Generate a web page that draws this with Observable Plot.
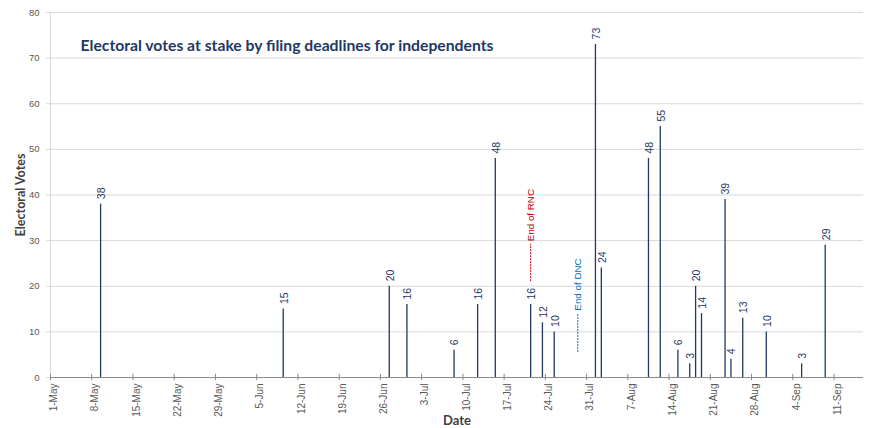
<!DOCTYPE html>
<html><head><meta charset="utf-8">
<script src="https://cdn.jsdelivr.net/npm/d3@7"></script>
<script src="https://cdn.jsdelivr.net/npm/@observablehq/plot@0.6"></script>
<style>body{margin:0;background:#fff}</style>
</head><body><div id="chart"></div>
<script>
// Filing deadlines (2016) and electoral votes at stake
const deadlineDates = ["2016-05-09","2016-06-09","2016-06-27","2016-06-30","2016-07-08","2016-07-12","2016-07-15",
  "2016-07-21","2016-07-23","2016-07-25","2016-08-01","2016-08-02","2016-08-10","2016-08-12","2016-08-15",
  "2016-08-17","2016-08-18","2016-08-19","2016-08-23","2016-08-24","2016-08-26","2016-08-30","2016-09-05","2016-09-09"];
const electoralVotes = [38,15,20,16,6,16,48,16,12,10,73,24,48,55,6,3,20,14,39,4,13,10,3,29];

const tickLabels = ["1-May","8-May","15-May","22-May","29-May","5-Jun","12-Jun","19-Jun","26-Jun","3-Jul",
  "10-Jul","17-Jul","24-Jul","31-Jul","7-Aug","14-Aug","21-Aug","28-Aug","4-Sep","11-Sep"];
const yTicks = [0,10,20,30,40,50,60,70,80];

const eventDates = ["2016-07-21","2016-07-29"];
const eventLabels = ["End of RNC","End of DNC"];
const eventLow = [21, 5.5];
const eventHigh = [29.2, 14];

const titleText = "Electoral votes at stake by filing deadlines for independents";
const xLabel = "Date";
const yLabel = "Electoral Votes";

const eventColor = {"End of RNC": "#c00000", "End of DNC": "#0070c0"};
const navy = "#1f3864";

const parseISO = d3.utcParse("%Y-%m-%d");
const parseTick = d3.utcParse("%d-%b-%Y");
const noon = s => new Date(+parseISO(s) + 12 * 3600e3);

const data = deadlineDates.map((d, i) => ({date: noon(d), votes: electoralVotes[i]}));
const ticks = tickLabels.map(t => ({date: parseTick(t + "-2016"), label: t}));
const events = eventDates.map((d, i) => ({date: noon(d), label: eventLabels[i], low: eventLow[i], high: eventHigh[i]}));

const chart = Plot.plot({
  width: 879,
  height: 428,
  marginLeft: 50,
  marginRight: 16,
  marginTop: 12,
  marginBottom: 51,
  style: {fontFamily: "Liberation Sans, Arial, sans-serif", background: "#fff"},
  x: {type: "utc", domain: [parseISO("2016-05-01"), parseISO("2016-09-16")], axis: null},
  y: {domain: [0, 80], axis: null},
  marks: [
    Plot.gridY(yTicks, {stroke: "#d9d9d9", strokeOpacity: 1, insetLeft: -4}),
    Plot.axisY(yTicks, {tickSize: 0, tickPadding: 11, fontSize: 9.5, fill: "#595959", label: null}),
    Plot.ruleX([parseISO("2016-05-01")], {stroke: "#d9d9d9"}),
    Plot.ruleY([0], {stroke: "#898989"}),
    Plot.ruleX(ticks, {x: "date", y1: () => -0.7, y2: () => 0.7, stroke: "#898989"}),
    Plot.text(ticks, {x: "date", y: () => 0, text: "label", rotate: -90, textAnchor: "end", dx: 3.5, dy: 6, fontSize: 10, fill: "#595959"}),
    Plot.ruleX(data, {x: "date", y1: () => 0, y2: "votes", stroke: navy, strokeWidth: 1.3}),
    Plot.text(data, {x: "date", y: "votes", text: d => String(d.votes), rotate: -90, textAnchor: "start", dx: 1, dy: -5, fontSize: 10.5, fill: navy}),
    Plot.ruleX(events, {x: "date", y1: "low", y2: "high", stroke: d => eventColor[d.label], strokeDasharray: "2,1", strokeWidth: 1}),
    Plot.text(events, {x: "date", y: "high", text: "label", rotate: -90, textAnchor: "start", dx: 0.5, dy: -3, fontSize: 9.8, fill: d => eventColor[d.label]}),
    Plot.text([titleText], {frameAnchor: "top-left", dx: 30, dy: 38, lineAnchor: "bottom", text: d => d, fontSize: 17.5, fontWeight: "bold", fontFamily: "Lato, sans-serif", fill: navy, className: "ttl"}),
    Plot.text([xLabel], {frameAnchor: "bottom", dy: 47, lineAnchor: "bottom", text: d => d, fontSize: 13, fontWeight: "bold", fontFamily: "Lato, sans-serif", fill: "#404040"}),
    Plot.text([yLabel], {frameAnchor: "left", dx: -30, rotate: -90, textAnchor: "middle", text: d => d, fontSize: 12.5, fontWeight: "bold", fontFamily: "Lato, sans-serif", fill: "#404040"})
  ]
});
document.getElementById("chart").appendChild(chart);
// fit title width to the reference (~413px)
const t = chart.querySelector(".ttl text");
if (t) {
  const w = t.getComputedTextLength();
  if (w > 0) t.setAttribute("font-size", (17.5 * 413 / w).toFixed(2));
}
</script>
</body></html>
